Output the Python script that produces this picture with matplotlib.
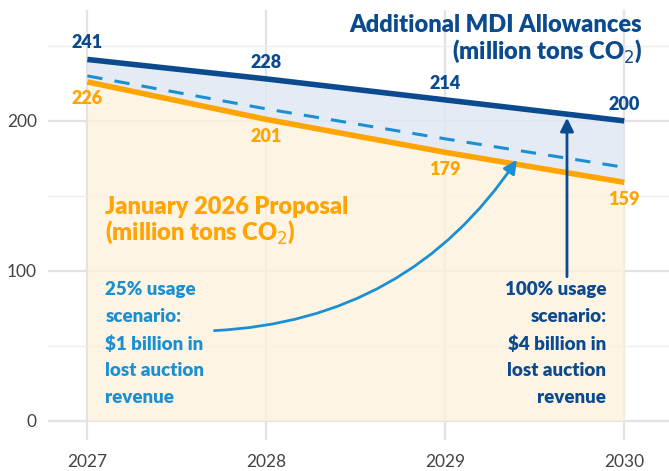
import matplotlib.pyplot as plt

# Werte
jahre = [2027, 2028, 2029, 2030]
mdi_allowances = [241, 228, 214, 200]
proposal = [226, 201, 179, 159]
usage_25 = [230, 208, 188, 169]

dunkelblau = '#0b4a8e'
hellblau = '#1a90d2'
orange = '#ffa400'

plt.rcParams['font.family'] = ['Lato', 'DejaVu Sans']

fig = plt.figure(figsize=(6.69, 4.71), dpi=100)
ax = fig.add_axes([48 / 669, 31 / 471, 1 - 48 / 669, 430 / 471])

# Flaechen
ax.fill_between(jahre, 0, proposal, color='#fdf1dc', alpha=0.75, lw=0, zorder=2)
ax.fill_between(jahre, proposal, mdi_allowances, color='#dfe7f2', alpha=0.8, lw=0, zorder=2)

# Linien
ax.plot(jahre, mdi_allowances, color=dunkelblau, lw=4, solid_capstyle='butt', zorder=4)
ax.plot(jahre, proposal, color=orange, lw=4, solid_capstyle='butt', zorder=4)
ax.plot(jahre, usage_25, color=hellblau, lw=2.2, dashes=(5, 4), zorder=3)

# Wertebeschriftungen
for x, y in zip(jahre, mdi_allowances):
    ax.annotate(str(y), (x, y), xytext=(0, 6), textcoords='offset points',
                ha='center', va='bottom', color=dunkelblau, fontsize=13, fontweight='heavy')
for x, y in zip(jahre, proposal):
    ax.annotate(str(y), (x, y), xytext=(0, -6), textcoords='offset points',
                ha='center', va='top', color=orange, fontsize=13, fontweight='heavy')

# Serientitel
ax.text(2030.1, 271, 'Additional MDI Allowances\n(million tons CO$_2$)', ha='right', va='top',
        color=dunkelblau, fontsize=17, fontweight='heavy', linespacing=1.05)
ax.text(2027.1, 150, 'January 2026 Proposal\n(million tons CO$_2$)', ha='left', va='top',
        color=orange, fontsize=17, fontweight='heavy', linespacing=1.05)

# Szenarien
ax.text(2027.1, 93, '25% usage\nscenario:\n$1 billion in\nlost auction\nrevenue', ha='left', va='top',
        color=hellblau, fontsize=13.5, fontweight='heavy', linespacing=1.7)
ax.text(2029.9, 93, '100% usage\nscenario:\n$4 billion in\nlost auction\nrevenue', ha='right', va='top',
        color=dunkelblau, fontsize=13.5, fontweight='heavy', linespacing=1.7)

ax.annotate('', xy=(2029.4, 174), xytext=(2027.71, 60),
            arrowprops=dict(arrowstyle='-|>,head_length=0.8,head_width=0.4', color=hellblau, lw=2,
                            connectionstyle='arc3,rad=0.25', shrinkA=0, shrinkB=0), zorder=5)
ax.annotate('', xy=(2029.68, 202), xytext=(2029.68, 96),
            arrowprops=dict(arrowstyle='-|>,head_length=0.8,head_width=0.4', color=dunkelblau, lw=2,
                            shrinkA=0, shrinkB=0), zorder=5)

# Achsen
ax.set_xlim(2026.78, 2030.25)
ax.set_ylim(-13, 274)
ax.set_xticks(jahre)
ax.set_yticks([0, 100, 200])
ax.set_yticks([50, 150, 250], minor=True)
ax.tick_params(axis='both', which='both', length=0, labelsize=12.5, colors='#444444')
ax.tick_params(axis='x', pad=10)
ax.tick_params(axis='y', pad=8)
ax.grid(True, which='major', color='#e3e3e3', lw=1.6, zorder=1)
ax.grid(True, which='minor', axis='y', color='#eeeeee', lw=1, zorder=1)
for s in ax.spines.values():
    s.set_visible(False)

plt.savefig('out.png', dpi=100)
